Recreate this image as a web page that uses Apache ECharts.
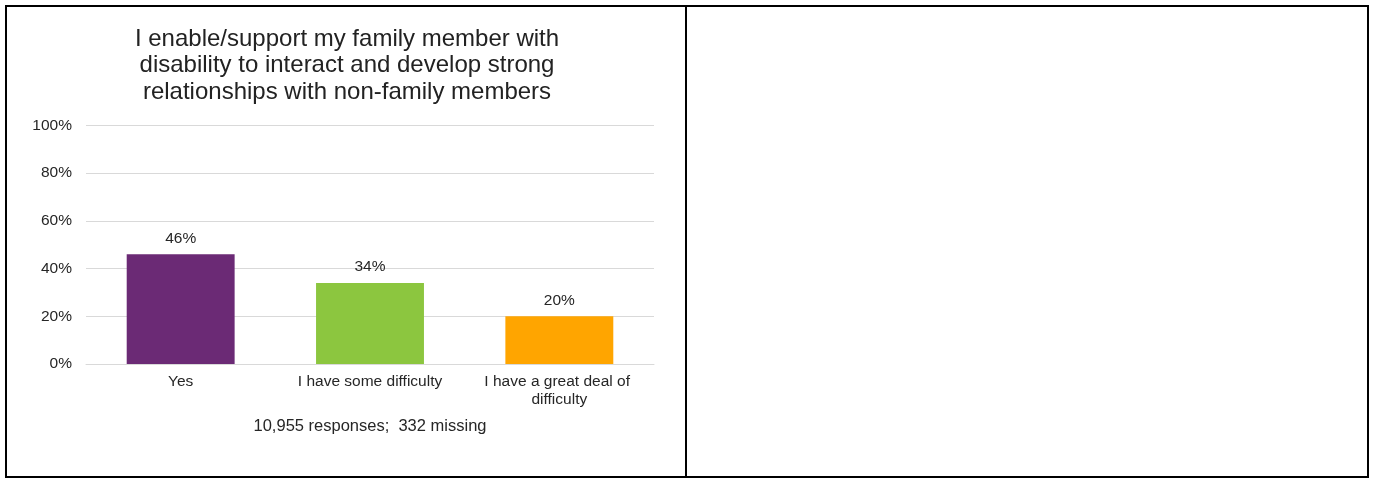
<!DOCTYPE html>
<html>
<head>
<meta charset="utf-8">
<script src="https://cdn.jsdelivr.net/npm/echarts@6/dist/echarts.min.js"></script>
<style>
html,body{margin:0;padding:0;background:#fff;}
#c{width:1375px;height:479px;}
</style>
</head>
<body>
<div id="c"></div>
<script>
const titleText = "I enable/support my family member with\ndisability to interact and develop strong\nrelationships with non-family members";
const categories = ["Yes", "I have some difficulty", "I have a great deal of difficulty"];
const values = [46, 34, 20];
const barColors = ["#6B2A75", "#8CC63F", "#FFA500"];
const yTicks = [0, 20, 40, 60, 80, 100];
const footnote = "10,955 responses;  332 missing";

const chart = echarts.init(document.getElementById('c'), null, {renderer: 'canvas'});
const font = "'Liberation Sans', Arial, sans-serif";
const txt = '#262626';
chart.setOption({
  animation: false,
  backgroundColor: '#ffffff',
  title: {
    text: titleText,
    left: 342,
    textAlign: 'center',
    top: 21,
    textStyle: {fontFamily: font, fontSize: 24, fontWeight: 'normal', color: '#222222', lineHeight: 26.5}
  },
  grid: {left: 86, right: 721, top: 125.5, bottom: 115, containLabel: false},
  xAxis: {
    type: 'category',
    data: categories,
    axisLine: {lineStyle: {color: '#D9D9D9', width: 1}},
    axisTick: {show: false},
    axisLabel: {fontFamily: font, fontSize: 15.5, color: txt, margin: 9, width: 180, overflow: 'break', lineHeight: 18, interval: 0},
    name: footnote,
    nameLocation: 'middle',
    nameGap: 54,
    nameTextStyle: {fontFamily: font, fontSize: 16.5, color: txt}
  },
  yAxis: {
    type: 'value',
    min: yTicks[0],
    max: yTicks[yTicks.length - 1],
    interval: 20,
    axisLine: {show: false},
    axisTick: {show: false},
    splitLine: {lineStyle: {color: '#D9D9D9', width: 1}},
    axisLabel: {fontFamily: font, fontSize: 15.5, color: txt, margin: 14, formatter: v => v + '%'}
  },
  series: [{
    type: 'bar',
    barWidth: '57%',
    data: values.map((v, i) => ({value: v, itemStyle: {color: barColors[i]}})),
    label: {show: true, position: 'top', distance: 8, fontFamily: font, fontSize: 15.5, color: txt, formatter: p => p.value + '%'}
  }],
  graphic: [
    {type: 'rect', shape: {x: 6, y: 6, width: 1362, height: 471}, style: {fill: null, stroke: '#000', lineWidth: 2}, silent: true},
    {type: 'line', shape: {x1: 686, y1: 6, x2: 686, y2: 477}, style: {stroke: '#000', lineWidth: 2}, silent: true}
  ]
});
</script>
</body>
</html>
